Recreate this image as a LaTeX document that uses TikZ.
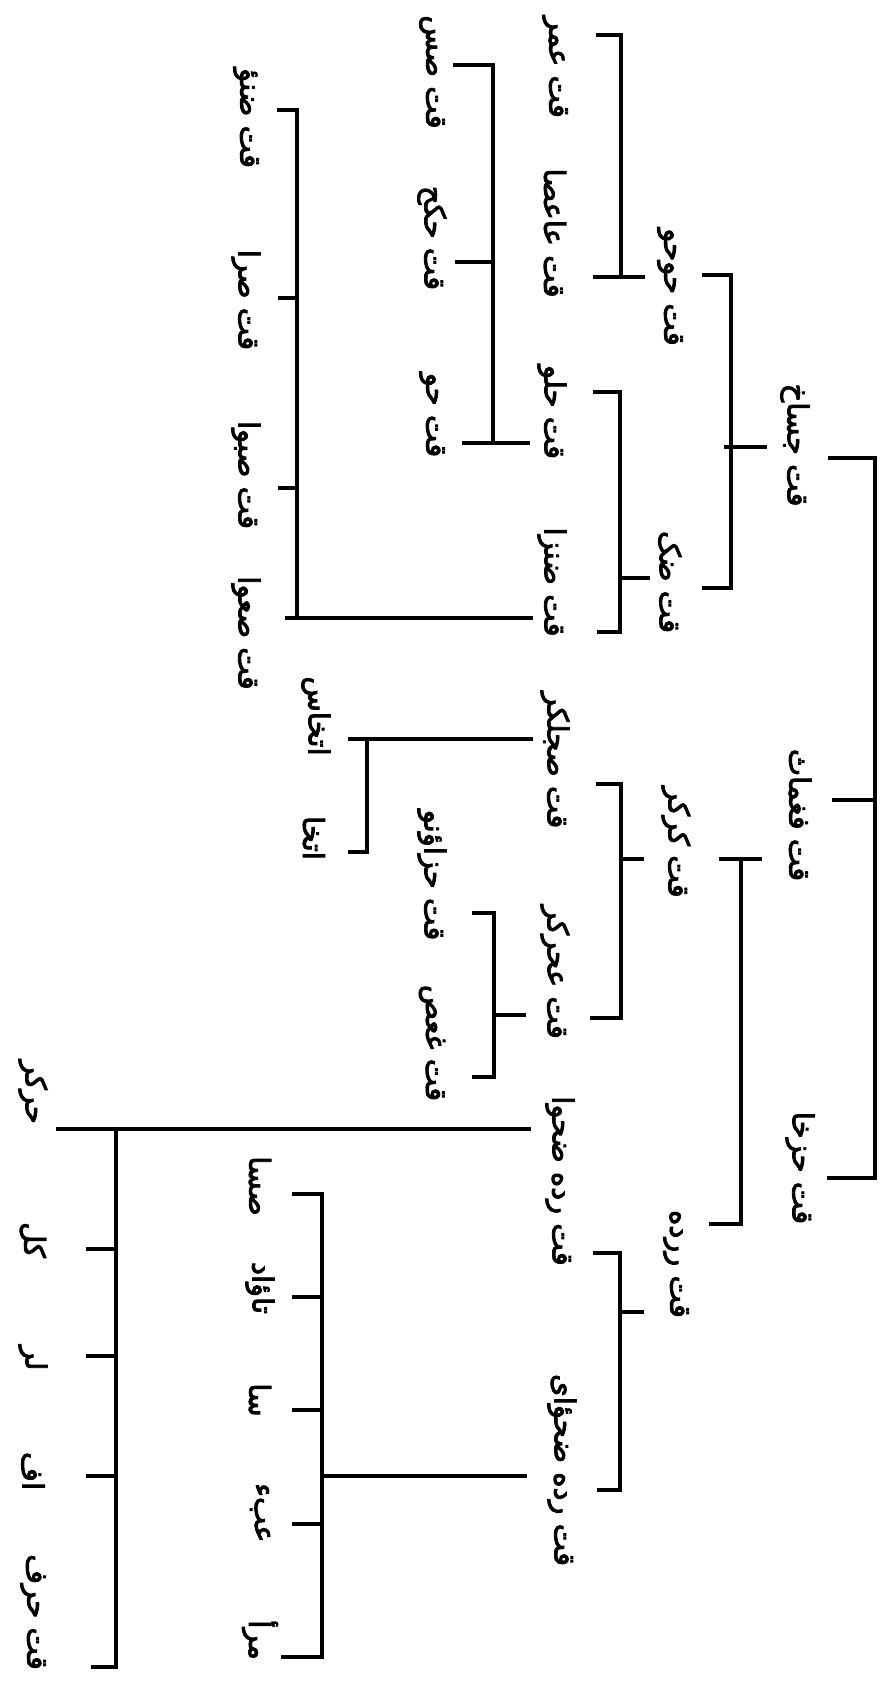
\documentclass[tikz,border=0pt]{standalone}
\usepackage{fontspec}
\newfontfamily\arabicfont[Script=Arabic,FakeBold=3]{DejaVu Sans}
\TeXXeTstate=1
\begin{document}
\begin{tikzpicture}[x=1pt,y=-1pt,
  lab/.style={rotate=-90,inner sep=0pt,font=\arabicfont\fontsize{29}{33}\selectfont},
  conn/.style={line width=3.2pt}]
\useasboundingbox (0,0) rectangle (890,1684);
% leaves, top left column
\node[lab] (F1) at (246,118) {\beginR قت ضنؤ\endR};
\node[lab] (F2) at (246,300) {\beginR قت صرا\endR};
\node[lab] (F3) at (246,475) {\beginR قت صبوا\endR};
\node[lab] (F4) at (246,633) {\beginR قت صعوا\endR};
% column D
\node[lab] (D1) at (432,72) {\beginR قت صس\endR};
\node[lab] (D2) at (432,238) {\beginR قت حکح\endR};
\node[lab] (D3) at (432,415) {\beginR قت حو\endR};
\node[lab] (D4) at (432,875) {\beginR قت حزاؤنو\endR};
\node[lab] (D5) at (432,1043) {\beginR قت غعص\endR};
% column E
\node[lab] (E1) at (316,716) {\beginR اتخاس\endR};
\node[lab] (E2) at (314,838) {\beginR اتخا\endR};
% column C
\node[lab] (C1) at (555,67) {\beginR قت عمر\endR};
\node[lab] (C2) at (555,233) {\beginR قت عاعصا\endR};
\node[lab] (C3) at (552,412) {\beginR قت حلو\endR};
\node[lab] (C4) at (552,582) {\beginR قت ضنزا\endR};
\node[lab] (C5) at (555,760) {\beginR قت صجلکر\endR};
\node[lab] (C6) at (555,972) {\beginR قت عحرکر\endR};
\node[lab] (C7) at (560,1181) {\beginR قت رده ضحوا\endR};
\node[lab] (C8) at (562,1470) {\beginR قت رده ضحؤای\endR};
% column G
\node[lab] (G1) at (670,287) {\beginR قت حوحو\endR};
\node[lab] (G2) at (670,582) {\beginR قت ضک\endR};
\node[lab] (G3) at (676,842) {\beginR قت کرکر\endR};
\node[lab] (G4) at (676,1264) {\beginR قت ررده\endR};
% column H
\node[lab] (H1) at (795,445) {\beginR قت جساخ\endR};
\node[lab] (H2) at (800,815) {\beginR قت فغماث\endR};
\node[lab] (H3) at (800,1168) {\beginR قت حزخا\endR};
% column A
\node[lab] (A1) at (33,1092) {\beginR حرکر\endR};
\node[lab] (A2) at (33,1240) {\beginR کل\endR};
\node[lab] (A3) at (33,1358) {\beginR لر\endR};
\node[lab] (A4) at (33,1471) {\beginR اف\endR};
\node[lab] (A5) at (33,1612) {\beginR قت حرف\endR};
% column B
\node[lab] (B1) at (260,1186) {\beginR صسا\endR};
\node[lab] (B2) at (260,1288) {\beginR تاؤاد\endR};
\node[lab] (B3) at (260,1400) {\beginR سا\endR};
\node[lab] (B4) at (260,1513) {\beginR عبء\endR};
\node[lab] (B5) at (260,1640) {\beginR مرأ\endR};

% brackets
% F -> C4
\draw[conn] (277,110) -- (297,110) -- (297,618);
\draw[conn] (278,298) -- (297,298);
\draw[conn] (278,488) -- (297,488);
\draw[conn] (285,618) -- (533,618);
% D1-3 -> C3
\draw[conn] (453,65) -- (493,65) -- (493,443);
\draw[conn] (455,262) -- (493,262);
\draw[conn] (462,443) -- (530,443);
% C1-2 -> G1
\draw[conn] (596,35) -- (621,35) -- (621,277);
\draw[conn] (593,277) -- (645,277);
% C3-4 -> G2
\draw[conn] (593,392) -- (620,392) -- (620,632) -- (597,632);
\draw[conn] (620,578) -- (650,578);
% G1-2 -> H1
\draw[conn] (702,275) -- (731,275) -- (731,588) -- (702,588);
\draw[conn] (724,447) -- (767,447);
% root
\draw[conn] (828,458) -- (875,458) -- (875,1178) -- (827,1178);
\draw[conn] (832,800) -- (875,800);
% E -> C5
\draw[conn] (348,739) -- (533,739);
\draw[conn] (367,739) -- (367,852) -- (348,852);
% D4-5 -> C6
\draw[conn] (472,913) -- (494,913) -- (494,1077) -- (472,1077);
\draw[conn] (494,1015) -- (526,1015);
% C5-6 -> G3
\draw[conn] (596,784) -- (621,784) -- (621,1018) -- (590,1018);
\draw[conn] (621,859) -- (644,859);
% G3-4 -> H2
\draw[conn] (719,859) -- (762,859);
\draw[conn] (741,859) -- (741,1224) -- (709,1224);
% C7-8 -> G4
\draw[conn] (593,1253) -- (620,1253) -- (620,1490) -- (597,1490);
\draw[conn] (620,1312) -- (644,1312);
% A -> C7
\draw[conn] (56,1129) -- (531,1129);
\draw[conn] (116,1129) -- (116,1667) -- (91,1667);
\draw[conn] (86,1249) -- (116,1249);
\draw[conn] (86,1356) -- (116,1356);
\draw[conn] (86,1476) -- (116,1476);
% B -> C8
\draw[conn] (292,1194) -- (322,1194) -- (322,1657) -- (281,1657);
\draw[conn] (292,1297) -- (322,1297);
\draw[conn] (292,1410) -- (322,1410);
\draw[conn] (292,1524) -- (322,1524);
\draw[conn] (322,1476) -- (527,1476);
\end{tikzpicture}
\end{document}
